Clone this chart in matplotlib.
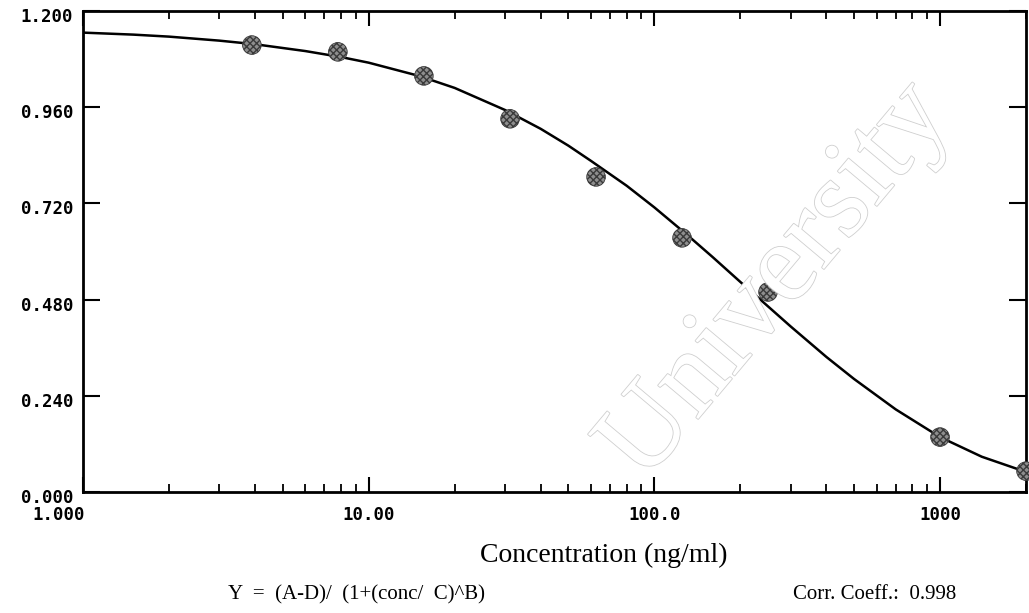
import matplotlib
matplotlib.use('Agg')
import matplotlib.pyplot as plt
import matplotlib.patheffects as pe
from matplotlib.ticker import FixedLocator, LogLocator, NullFormatter
from matplotlib.transforms import ScaledTranslation

# --- Standards (concentration in ng/ml, response) ---
std_conc = [3.9, 7.8, 15.6, 31.25, 62.5, 125, 250, 1000, 2000]
std_resp = [1.115, 1.098, 1.038, 0.931, 0.786, 0.634, 0.499, 0.137, 0.052]

# --- Fitted 4-parameter curve, read along its length ---
fit_conc = [1, 1.5, 2, 3, 4, 6, 8, 10, 15, 20, 30, 40, 50, 60, 80, 100,
            130, 160, 200, 250, 300, 400, 500, 700, 1000, 1400, 2000]
fit_resp = [1.146, 1.141, 1.136, 1.126, 1.117, 1.100, 1.085, 1.071, 1.038,
            1.008, 0.953, 0.906, 0.864, 0.826, 0.764, 0.710, 0.642, 0.586,
            0.524, 0.463, 0.413, 0.337, 0.282, 0.206, 0.137, 0.088, 0.050]

y_ticks = [0.0, 0.24, 0.48, 0.72, 0.96, 1.2]
y_labels = ['0.000', '0.240', '0.480', '0.720', '0.960', '1.200']
x_ticks = [1, 10, 100, 1000]
x_labels = ['1.000', '10.00', '100.0', '1000']

equation = 'Y  =  (A-D)/  (1+(conc/  C)^B)'
corr_text = 'Corr. Coeff.:  0.998'

TICK_FONT = dict(family='DejaVu Sans Mono', size=12.5, weight='bold')
SERIF = 'Liberation Serif'

fig = plt.figure(figsize=(10.29, 6.13), dpi=100, facecolor='white')
ax = fig.add_axes([0.0807, 0.1974, 0.9164, 0.7847])

# faint outlined watermark behind the data
fig.text(0.755, 0.54, 'University', fontsize=82, family=SERIF, rotation=50,
         color='white', ha='center', va='center', zorder=0,
         path_effects=[pe.withStroke(linewidth=1.2, foreground='#cfcfcf')])
ax.patch.set_alpha(0)

ax.plot(fit_conc, fit_resp, color='black', lw=1.8, zorder=2)
ax.scatter(std_conc, std_resp, s=180, facecolor='#8e8e8e', edgecolor='#3a3a3a',
           hatch='xxxxx', linewidths=0.6, zorder=3, clip_on=False)

ax.set_xscale('log')
ax.set_xlim(1, 2000)
ax.set_ylim(0, 1.2)

for s in ax.spines.values():
    s.set_linewidth(2)

ax.xaxis.set_major_locator(FixedLocator(x_ticks))
ax.xaxis.set_minor_locator(LogLocator(base=10, subs=range(2, 10)))
ax.xaxis.set_minor_formatter(NullFormatter())
ax.set_xticklabels(x_labels, fontdict=TICK_FONT)
ax.tick_params(axis='x', which='major', direction='in', length=11, width=1.5,
               top=True, pad=10)
ax.tick_params(axis='x', which='minor', direction='in', length=6, width=1.3,
               top=True)
# the first label is tucked under the y-axis corner
first = ax.get_xticklabels()[0]
first.set_transform(first.get_transform() +
                    ScaledTranslation(-24 / 100, 0, fig.dpi_scale_trans))

ax.set_yticks(y_ticks)
ax.set_yticklabels(y_labels, fontdict=TICK_FONT)
ax.tick_params(axis='y', which='major', direction='in', length=12, width=1.5,
               right=True, pad=7)
# labels sit a little below their tick marks
shift = ScaledTranslation(0, -4 / 100, fig.dpi_scale_trans)
for lbl in ax.get_yticklabels():
    lbl.set_transform(lbl.get_transform() + shift)

fig.text(0.587, 0.094, 'Concentration (ng/ml)', family=SERIF, fontsize=20,
         ha='center', va='center')
fig.text(0.222, 0.030, equation, family=SERIF, fontsize=15,
         ha='left', va='center')
fig.text(0.771, 0.030, corr_text, family=SERIF, fontsize=15,
         ha='left', va='center')

fig.savefig('out.png', dpi=100, facecolor='white')
